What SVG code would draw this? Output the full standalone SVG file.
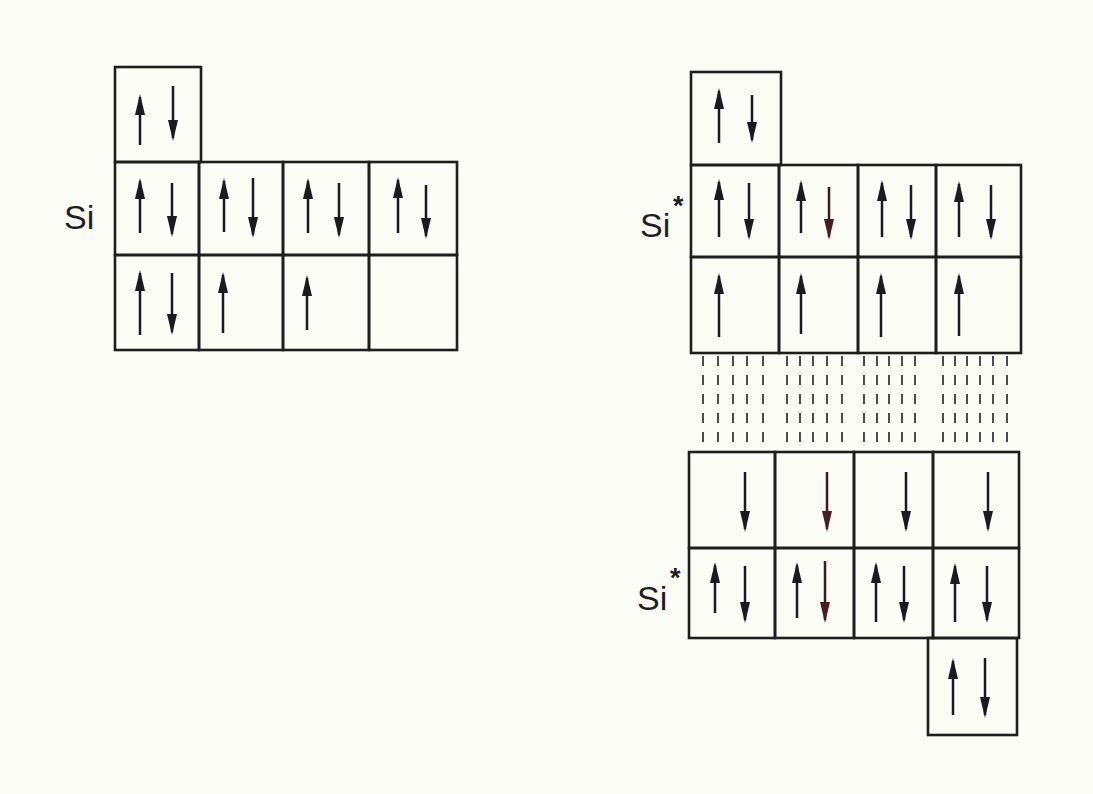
<svg xmlns="http://www.w3.org/2000/svg" width="1093" height="794" viewBox="0 0 1093 794">
<style>
.c{fill:none;stroke:#1e1e1e;stroke-width:2.6}
.a{stroke:#1a1a22;stroke-width:2.5;marker-end:url(#hd)}
.r{stroke:#3a1c20;stroke-width:2.5;marker-end:url(#hr)}
.d{stroke:#3a3a3a;stroke-width:1.8;stroke-dasharray:10 9}
.t{font-family:"Liberation Sans","DejaVu Sans",sans-serif;font-size:34px;fill:#1e1e1e}
.s{font-family:"Liberation Sans","DejaVu Sans",sans-serif;font-size:27px;font-weight:bold;fill:#1e1e1e}
</style>
<defs>
<marker id="hd" viewBox="0 0 21 11" refX="18" refY="5.5" markerWidth="21" markerHeight="11" markerUnits="userSpaceOnUse" orient="auto"><path d="M0,0.5 L21,5.5 L0,10.5 z" fill="#1a1a22"/></marker>
<marker id="hr" viewBox="0 0 21 11" refX="18" refY="5.5" markerWidth="21" markerHeight="11" markerUnits="userSpaceOnUse" orient="auto"><path d="M0,0.5 L21,5.5 L0,10.5 z" fill="#4a1c22"/></marker>
</defs>
<rect width="1093" height="794" fill="#fcfcf6"/>

<g id="left-labels"><text class="t" x="64" y="229">Si</text></g>

<g id="L0"><rect class="c" x="115" y="67" width="86" height="95"/><line class="a" x1="140" y1="145" x2="140" y2="97"/><line class="a" x1="173" y1="86" x2="173" y2="138"/></g>
<g id="L1"><rect class="c" x="115" y="162" width="84" height="93"/><line class="a" x1="140" y1="233" x2="140" y2="181"/><line class="a" x1="172" y1="183" x2="172" y2="234"/></g>
<g id="L2"><rect class="c" x="199" y="162" width="84" height="93"/><line class="a" x1="224" y1="232" x2="224" y2="181"/><line class="a" x1="253" y1="178" x2="253" y2="235"/></g>
<g id="L3"><rect class="c" x="283" y="162" width="86" height="93"/><line class="a" x1="308" y1="233" x2="308" y2="181"/><line class="a" x1="339" y1="183" x2="339" y2="235"/></g>
<g id="L4"><rect class="c" x="369" y="162" width="88" height="93"/><line class="a" x1="398" y1="233" x2="398" y2="180"/><line class="a" x1="426" y1="185" x2="426" y2="236"/></g>
<g id="L5"><rect class="c" x="115" y="255" width="84" height="95"/><line class="a" x1="140" y1="335" x2="140" y2="273"/><line class="a" x1="172" y1="273" x2="172" y2="332"/></g>
<g id="L6"><rect class="c" x="199" y="255" width="84" height="95"/><line class="a" x1="223" y1="333" x2="223" y2="275"/></g>
<g id="L7"><rect class="c" x="283" y="255" width="86" height="95"/><line class="a" x1="307" y1="330" x2="307" y2="278"/></g>
<g id="L8"><rect class="c" x="369" y="255" width="88" height="95"/></g>

<g id="right-labels">
<text class="t" x="640" y="237">Si</text><text class="s" x="673" y="215">*</text>
<text class="t" x="637" y="610">Si</text><text class="s" x="670" y="587">*</text>
</g>

<g id="R0"><rect class="c" x="691" y="72" width="90" height="93"/><line class="a" x1="719" y1="143" x2="719" y2="91"/><line class="a" x1="752" y1="95" x2="752" y2="140"/></g>
<g id="R1"><rect class="c" x="691" y="165" width="88" height="92"/><line class="a" x1="719" y1="237" x2="719" y2="182"/><line class="a" x1="749" y1="183" x2="749" y2="237"/></g>
<g id="R2"><rect class="c" x="779" y="165" width="79" height="92"/><line class="a" x1="801" y1="233" x2="801" y2="183"/><line class="r" x1="829" y1="187" x2="829" y2="237"/></g>
<g id="R3"><rect class="c" x="858" y="165" width="78" height="92"/><line class="a" x1="882" y1="237" x2="882" y2="183"/><line class="a" x1="911" y1="185" x2="911" y2="237"/></g>
<g id="R4"><rect class="c" x="936" y="165" width="85" height="92"/><line class="a" x1="959" y1="237" x2="959" y2="184"/><line class="a" x1="991" y1="185" x2="991" y2="237"/></g>
<g id="R5"><rect class="c" x="691" y="257" width="88" height="96"/><line class="a" x1="719" y1="337" x2="719" y2="276"/></g>
<g id="R6"><rect class="c" x="779" y="257" width="79" height="96"/><line class="a" x1="801" y1="334" x2="801" y2="276"/></g>
<g id="R7"><rect class="c" x="858" y="257" width="78" height="96"/><line class="a" x1="881" y1="337" x2="881" y2="276"/></g>
<g id="R8"><rect class="c" x="936" y="257" width="85" height="96"/><line class="a" x1="959" y1="336" x2="959" y2="276"/></g>

<g id="connectors">
<line class="d" x1="703" y1="356" x2="703" y2="451"/><line class="d" x1="718" y1="356" x2="718" y2="451"/><line class="d" x1="733" y1="356" x2="733" y2="451"/><line class="d" x1="747" y1="356" x2="747" y2="451"/><line class="d" x1="763" y1="356" x2="763" y2="451"/>
<line class="d" x1="787" y1="356" x2="787" y2="451"/><line class="d" x1="800" y1="356" x2="800" y2="451"/><line class="d" x1="813" y1="356" x2="813" y2="451"/><line class="d" x1="827" y1="356" x2="827" y2="451"/><line class="d" x1="842" y1="356" x2="842" y2="451"/>
<line class="d" x1="864" y1="356" x2="864" y2="451"/><line class="d" x1="877" y1="356" x2="877" y2="451"/><line class="d" x1="889" y1="356" x2="889" y2="451"/><line class="d" x1="902" y1="356" x2="902" y2="451"/><line class="d" x1="915" y1="356" x2="915" y2="451"/>
<line class="d" x1="943" y1="356" x2="943" y2="451"/><line class="d" x1="955" y1="356" x2="955" y2="451"/><line class="d" x1="967" y1="356" x2="967" y2="451"/><line class="d" x1="980" y1="356" x2="980" y2="451"/><line class="d" x1="993" y1="356" x2="993" y2="451"/><line class="d" x1="1007" y1="356" x2="1007" y2="451"/>
</g>

<g id="B1"><rect class="c" x="689" y="452" width="86" height="96"/><line class="a" x1="745" y1="472" x2="745" y2="529"/></g>
<g id="B2"><rect class="c" x="775" y="452" width="79" height="96"/><line class="r" x1="827" y1="472" x2="827" y2="529"/></g>
<g id="B3"><rect class="c" x="854" y="452" width="79" height="96"/><line class="a" x1="906" y1="472" x2="906" y2="529"/></g>
<g id="B4"><rect class="c" x="933" y="452" width="86" height="96"/><line class="a" x1="988" y1="472" x2="988" y2="529"/></g>
<g id="B5"><rect class="c" x="689" y="548" width="86" height="90"/><line class="a" x1="715" y1="613" x2="715" y2="565"/><line class="a" x1="745" y1="566" x2="745" y2="620"/></g>
<g id="B6"><rect class="c" x="775" y="548" width="79" height="90"/><line class="a" x1="797" y1="618" x2="797" y2="565"/><line class="r" x1="825" y1="561" x2="825" y2="620"/></g>
<g id="B7"><rect class="c" x="854" y="548" width="79" height="90"/><line class="a" x1="876" y1="622" x2="876" y2="565"/><line class="a" x1="904" y1="566" x2="904" y2="620"/></g>
<g id="B8"><rect class="c" x="933" y="548" width="86" height="90"/><line class="a" x1="955" y1="622" x2="955" y2="566"/><line class="a" x1="987" y1="566" x2="987" y2="620"/></g>
<g id="B9"><rect class="c" x="928" y="638" width="89" height="97"/><line class="a" x1="953" y1="715" x2="953" y2="661"/><line class="a" x1="985" y1="658" x2="985" y2="715"/></g>
</svg>
